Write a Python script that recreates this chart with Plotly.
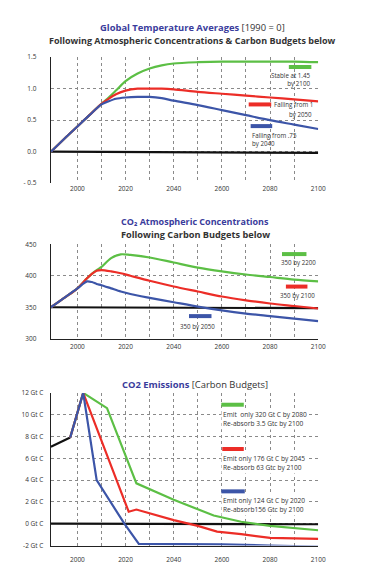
import plotly.graph_objects as go

W, H = 383, 582

# ---------------- data ----------------
# Chart 1: Global temperature averages (1990 = 0)
temp_years = [1989, 1995, 2000, 2005, 2010, 2013, 2016, 2020, 2025, 2030, 2035, 2040, 2050, 2060, 2070, 2080, 2090, 2100]
temp_green = [0, 0.22, 0.40, 0.58, 0.76, 0.86, 0.97, 1.12, 1.24, 1.32, 1.37, 1.40, 1.42, 1.43, 1.43, 1.43, 1.43, 1.42]
temp_red = [0, 0.22, 0.40, 0.58, 0.76, 0.84, 0.91, 0.97, 1.00, 1.00, 1.00, 0.99, 0.95, 0.92, 0.89, 0.86, 0.83, 0.80]
temp_blue = [0, 0.22, 0.40, 0.58, 0.75, 0.80, 0.84, 0.86, 0.87, 0.87, 0.85, 0.81, 0.74, 0.66, 0.58, 0.50, 0.43, 0.36]
temp_base_years = [1989, 2100]
temp_base = [0, -0.02]

# Chart 2: CO2 atmospheric concentrations (ppm)
co2_years = [1989, 1995, 2000, 2004, 2006, 2008, 2010, 2014, 2018, 2022, 2030, 2040, 2050, 2060, 2070, 2080, 2090, 2100]
co2_blue = [350, 366, 380, 391, 390, 387, 385, 380, 375, 371, 365, 358, 351, 345, 340, 336, 332, 328]
co2_red = [350, 366, 380, 396, 403, 408, 409, 407, 404, 400, 392, 383, 375, 367, 361, 356, 352, 348]
co2_green = [350, 366, 380, 396, 403, 409, 414, 428, 434, 433, 429, 421, 413, 407, 402, 398, 394, 391]
co2_base_years = [1989, 2100]
co2_base = [350, 348.5]

# Chart 3: CO2 emissions (Gt C)
em_hist_years = [1989, 1997]
em_hist = [7.07, 7.9]
em_green_years = [1997, 2002.4, 2012.3, 2024.5, 2040, 2056.6, 2068, 2080, 2100]
em_green = [7.9, 12, 10.6, 3.7, 2.2, 0.75, 0.18, -0.2, -0.6]
em_red_years = [1997, 2002.4, 2017.3, 2021.3, 2024.5, 2030, 2040, 2050, 2058, 2068, 2080, 2100]
em_red = [7.9, 12, 3.4, 1.1, 1.3, 0.95, 0.33, -0.2, -0.72, -0.96, -1.3, -1.4]
em_blue_years = [1997, 2002.4, 2008, 2019.5, 2025.5, 2040, 2060, 2080, 2100]
em_blue = [7.9, 12, 4.0, 0.0, -1.85, -1.85, -1.9, -2.0, -2.1]
em_base_years = [1989, 2100]
em_base = [0, -0.05]

x_tickvals = [2000, 2010, 2020, 2030, 2040, 2050, 2060, 2070, 2080, 2090, 2100]
x_ticktext = ["2000", "", "2020", "", "2040", "", "2600", "", "2080", "", "2100"]

y1_vals = [-0.5, 0, 0.5, 1.0, 1.5]
y1_text = ["- 0.5", "0.0", "0.5", "1.0", "1.5"]
y2_vals = [300, 350, 400, 450]
y2_text = ["300", "350", "400", "450"]
y3_vals = [-2, 0, 2, 4, 6, 8, 10, 12]
y3_text = ["-2 Gt C", "0 Gt C", "2 Gt C", "4 Gt C", "6 Gt C", "8 Gt C", "10 Gt C", "12 Gt C"]

# ---------------- style ----------------
GREEN = "#5cbf45"
RED = "#ec2d27"
BLUE = "#3c55a8"
BLACK = "#111111"
TITLE_BLUE = "#3a3c9c"
DARK = "#333333"
FONT = "Open Sans"
GRID = "#8a8a8a"


def px(x):
    return x / W


def py(y):
    return 1 - y / H


fig = go.Figure()


def add_line(x, y, color, xa, ya, width=2.2, shape="spline"):
    fig.add_trace(go.Scatter(x=x, y=y, mode="lines", xaxis=xa, yaxis=ya,
                             line=dict(color=color, width=width, shape=shape, smoothing=0.8),
                             hoverinfo="skip", showlegend=False))


# chart 1
add_line(temp_base_years, temp_base, BLACK, "x", "y", width=2.2, shape="linear")
add_line(temp_years, temp_green, GREEN, "x", "y")
add_line(temp_years, temp_red, RED, "x", "y")
add_line(temp_years, temp_blue, BLUE, "x", "y")
# chart 2
add_line(co2_base_years, co2_base, BLACK, "x2", "y2", width=2.2, shape="linear")
add_line(co2_years, co2_green, GREEN, "x2", "y2")
add_line(co2_years, co2_red, RED, "x2", "y2")
add_line(co2_years, co2_blue, BLUE, "x2", "y2")
# chart 3
add_line(em_base_years, em_base, BLACK, "x3", "y3", width=2.2, shape="linear")
add_line(em_hist_years, em_hist, BLACK, "x3", "y3", width=2.2, shape="linear")
add_line(em_green_years, em_green, GREEN, "x3", "y3", shape="linear")
add_line(em_red_years, em_red, RED, "x3", "y3", shape="linear")
add_line(em_blue_years, em_blue, BLUE, "x3", "y3", shape="linear")

xdom = [px(52), px(325)]
tickfont = dict(family=FONT, size=6.5, color=DARK)


def xaxis(anchor, showline, standoff):
    return dict(domain=xdom, anchor=anchor, range=[1989, 2100], tickvals=x_tickvals,
                ticktext=x_ticktext, showgrid=True, gridcolor=GRID, griddash="dot",
                gridwidth=1, zeroline=False, ticks="", tickfont=tickfont,
                showline=showline, linecolor="#222", linewidth=1.2, ticklabelstandoff=standoff)


def yaxis(anchor, dom, rng, vals, text, standoff):
    return dict(domain=dom, anchor=anchor, range=rng, tickvals=vals, ticktext=text,
                showgrid=True, gridcolor=GRID, griddash="dot", gridwidth=1,
                zeroline=False, ticks="", tickfont=tickfont, showline=True,
                linecolor="#222", linewidth=1.2, ticklabelstandoff=standoff)


fig.update_layout(
    width=W, height=H, margin=dict(l=0, r=0, t=0, b=0),
    paper_bgcolor="white", plot_bgcolor="white", showlegend=False,
    xaxis=xaxis("y", False, 0),
    yaxis=yaxis("x", [py(181), py(53)], [-0.5, 1.5], y1_vals, y1_text, 12),
    xaxis2=xaxis("y2", True, 1),
    yaxis2=yaxis("x2", [py(339), py(243)], [300, 450], y2_vals, y2_text, 12),
    xaxis3=xaxis("y3", True, 7),
    yaxis3=yaxis("x3", [py(549), py(394)], [-2, 12], y3_vals, y3_text, 5),
)

annotations = []
shapes = []


def text(x, y, s, size=6.2, xanchor="left", align="left", color=DARK, bold=False, bg=None, pad=1):
    if bold:
        s = "<b>" + s + "</b>"
    a = dict(x=px(x), y=py(y), xref="paper", yref="paper", text=s, showarrow=False,
             xanchor=xanchor, yanchor="middle", align=align, borderpad=pad,
             font=dict(family=FONT, size=size, color=color))
    if bg:
        a["bgcolor"] = bg
    annotations.append(a)


def swatch(x0, x1, y, color):
    shapes.append(dict(type="line", xref="paper", yref="paper", x0=px(x0), x1=px(x1),
                       y0=py(y), y1=py(y), line=dict(color=color, width=4)))


# titles
text(197, 23, f"<span style='color:{TITLE_BLUE}'><b>Global Temperature Averages</b></span> [1990 = 0]",
     size=9.4, xanchor="center", align="center", pad=0)
text(197, 36.5, "Following Atmospheric Concentrations &amp; Carbon Budgets below",
     size=9.0, xanchor="center", align="center", bold=True, pad=0)
text(199, 220, f"<span style='color:{TITLE_BLUE}'>CO₂ Atmospheric Concentrations</span>",
     size=9, xanchor="center", align="center", bold=True, pad=0)
text(200, 233.5, "Following Carbon Budgets below", size=9.2, xanchor="center", align="center", bold=True, pad=0)
text(199, 385, f"<span style='color:{TITLE_BLUE}'><b>CO2 Emissions</b></span> [Carbon Budgets]",
     size=9.4, xanchor="center", align="center", pad=0)

# chart 1 legend
swatch(295, 318, 63, GREEN)
text(319, 75.5, "Stable at 1.45<br>by 2100", xanchor="right", align="right")
swatch(254, 277, 101, RED)
text(278, 101, "Falling from 1")
text(321, 111, "by 2050", xanchor="right", align="right")
swatch(256, 278, 123, BLUE)
text(255, 136.5, "Falling from .75<br>by 2040")

# chart 2 legend
swatch(288, 313, 253, GREEN)
text(304.5, 262, "350 by 2200", xanchor="center", align="center")
swatch(292, 314, 286, RED)
text(304, 295, "350 by 2100", xanchor="center", align="center")
swatch(193, 216, 316, BLUE)
text(202, 327, "350 by 2050", xanchor="center", align="center")

# chart 3 legend
swatch(226, 249, 406, GREEN)
text(226, 420, "Emit  only 320 Gt C by 2080<br>Re-absorb 3.5 Gtc by 2100", size=6.6, bg="white")
swatch(227, 249, 451, RED)
text(226, 465, "Emit only 176 Gt C by 2045<br>Re-absorb 63 Gtc by 2100", size=6.6, bg="white")
swatch(226, 250, 494, BLUE)
text(226, 507.5, "Emit only 124 Gt C by 2020<br>Re-absorb156 Gtc by 2100", size=6.6, bg="white")

fig.update_layout(annotations=annotations, shapes=shapes)

fig.write_html("out.html", config={"displayModeBar": False, "staticPlot": True},
               post_script="document.body.style.margin='0';document.body.style.padding='0';")
